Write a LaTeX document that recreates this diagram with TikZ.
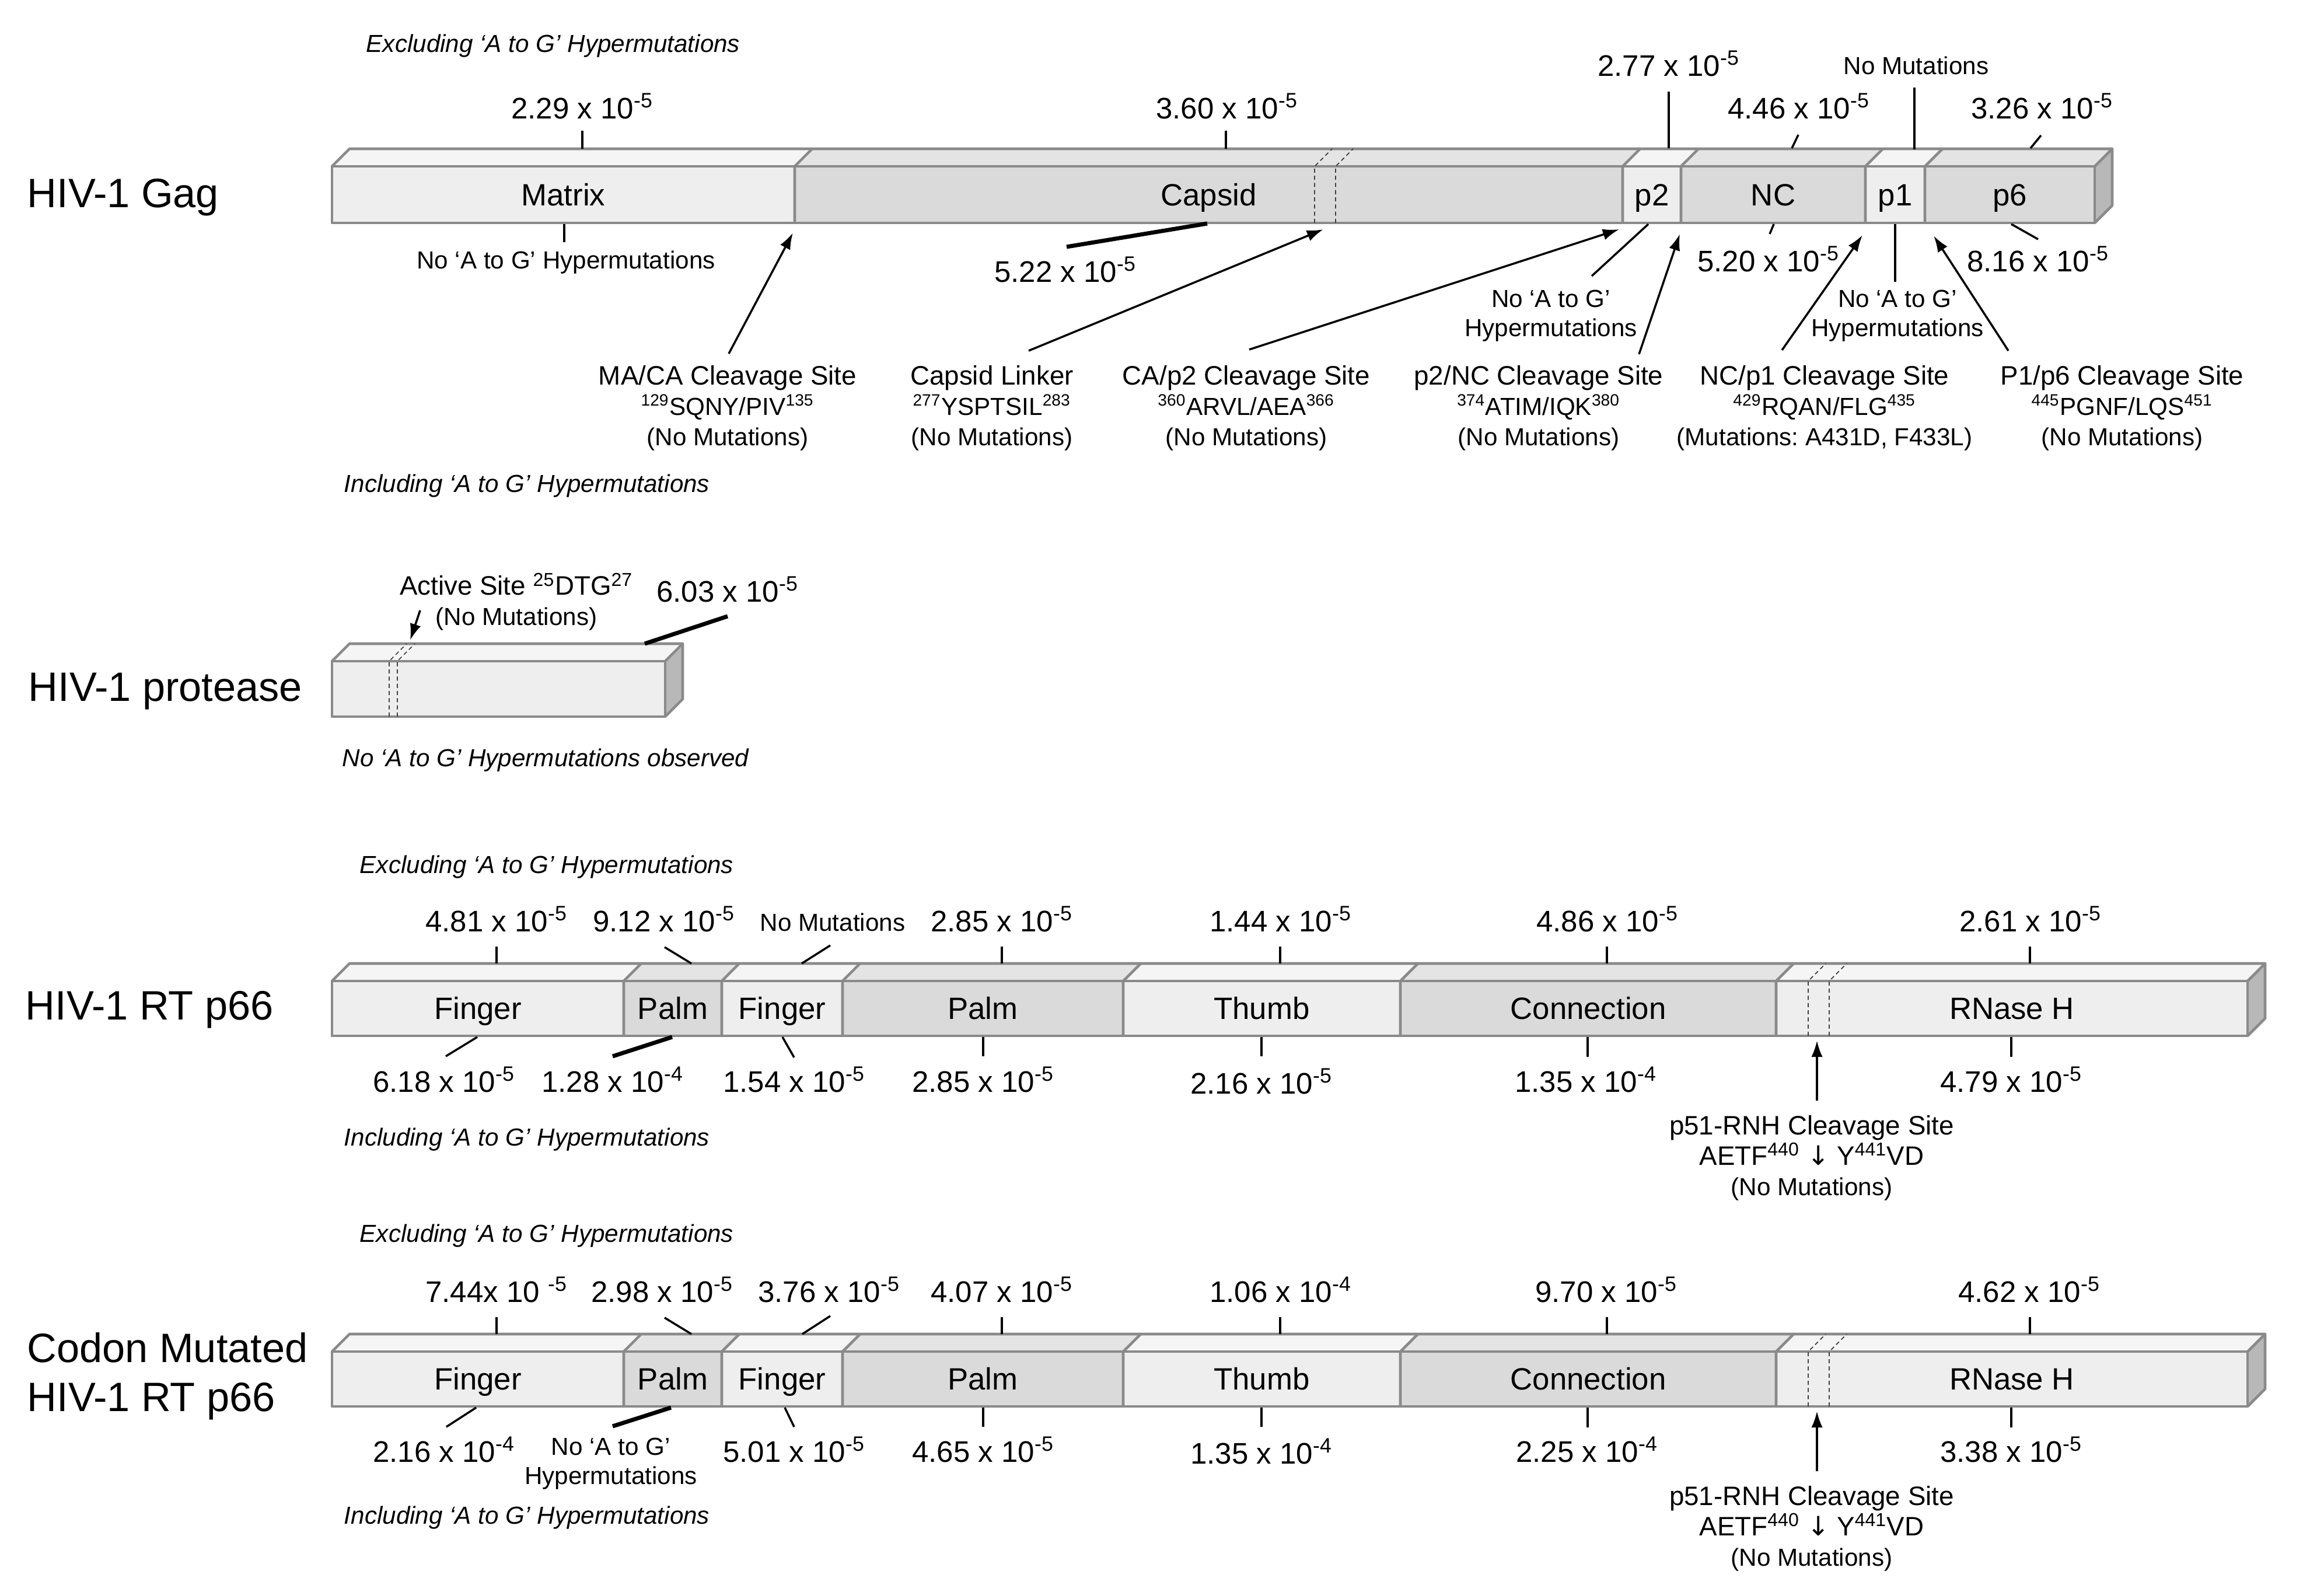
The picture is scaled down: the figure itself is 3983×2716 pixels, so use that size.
\documentclass[tikz,border=0pt]{standalone}
\usepackage{fontspec}
\setmainfont{Liberation Sans}
\newfontfamily\djv{DejaVu Sans}
\usetikzlibrary{arrows.meta}
\frenchspacing

\definecolor{segL}{HTML}{EEEEEE}
\definecolor{segD}{HTML}{DADADA}
\definecolor{topL}{HTML}{F5F5F5}
\definecolor{topD}{HTML}{E4E4E4}
\definecolor{edgec}{HTML}{8A8A8A}
\definecolor{sidec}{HTML}{B8B8B8}

\tikzset{
  seglabel/.style={font=\fontsize{15}{18}\selectfont, inner sep=0pt, text height=10.8pt, text depth=0pt},
  rate/.style={font=\fontsize{14.5}{17}\selectfont, inner sep=0pt, text height=10.4pt, text depth=0pt},
  smalltxt/.style={font=\fontsize{12}{14.2}\selectfont, align=center, inner sep=0pt},
  italnote/.style={font=\fontsize{12}{14}\selectfont\itshape, inner sep=0pt},
  title/.style={font=\fontsize{20}{24}\selectfont, anchor=west, inner sep=0pt, text height=14.3pt, text depth=0pt},
  site/.style={font=\fontsize{13}{14.8}\selectfont, align=center, inner sep=0pt},
  tick/.style={line width=1pt, black},
  thickline/.style={line width=2pt, black},
  arr/.style={line width=1pt, black, -{Latex[length=8pt,width=5.5pt]}},
  edgeline/.style={draw=edgec, line width=1.3pt, line join=round},
  dashdiv/.style={draw=black!75, line width=0.5pt, dash pattern=on 2pt off 1.5pt},
}

\newcommand\seg[8]{%
  \fill[#6] (#2,#4) rectangle (#3,#5);
  \fill[#7] (#2,#4) -- ({#2+30},{#4-30}) -- ({#3+30},{#4-30}) -- (#3,#4) -- cycle;
  \node[seglabel] (#1) at ({(#2+#3)/2},{(#4+#5)/2}) {#8};
}
\newcommand\frm[4]{%
  \fill[sidec] (#2,#3) -- ({#2+30},{#3-30}) -- ({#2+30},{#4-30}) -- (#2,#4) -- cycle;
  \draw[edgeline] (#1,#3) rectangle (#2,#4);
  \draw[edgeline] (#1,#3) -- ({#1+30},{#3-30}) -- ({#2+30},{#3-30}) -- ({#2+30},{#4-30}) -- (#2,#4);
  \draw[edgeline] (#2,#3) -- ({#2+30},{#3-30});
}
\newcommand\dv[3]{\draw[edgeline] (#1,#3) -- (#1,#2) -- ({#1+30},{#2-30});}
\newcommand\dsh[3]{\draw[dashdiv] (#1,#3) -- (#1,#2) -- ({#1+30},{#2-30});}
\newcommand\conn[4]{\coordinate (#1s) at (#3); \coordinate (#1e) at (#4); \draw[#2] (#1s) -- (#1e);}
\newcommand\ten[1]{x 10\textsuperscript{#1}}
\newcommand\sml[1]{{\fontsize{12}{14.8}\selectfont #1}}

\begin{document}
\begin{tikzpicture}[x=0.01cm, y=-0.01cm]
\useasboundingbox (0,0) rectangle (3983,2716);
\fill[white] (0,0) rectangle (3983,2716);

%================ HIV-1 Gag =================
\node[title] (tGag) at (46,330) {HIV-1 Gag};
\seg{gMatrix}{569}{1362}{285}{382}{segL}{topL}{Matrix}
\seg{gCapsid}{1362}{2781}{285}{382}{segD}{topD}{Capsid}
\seg{gp2}{2781}{2881}{285}{382}{segL}{topL}{p2}
\seg{gNC}{2881}{3197}{285}{382}{segD}{topD}{NC}
\seg{gp1}{3197}{3299}{285}{382}{segL}{topL}{p1}
\seg{gp6}{3299}{3590}{285}{382}{segD}{topD}{p6}
\frm{569}{3590}{285}{382}
\dv{1362}{285}{382}\dv{2781}{285}{382}\dv{2881}{285}{382}\dv{3197}{285}{382}\dv{3299}{285}{382}
\dsh{2253}{285}{382}\dsh{2289}{285}{382}

\node[italnote] (gEx) at (948,79) {Excluding ‘A to G’ Hypermutations};
\node[rate] (gr1) at (998,185) {2.29 \ten{-5}};
\node[rate] (gr2) at (2103,185) {3.60 \ten{-5}};
\node[rate] (gr3) at (2860,112) {2.77 \ten{-5}};
\node[smalltxt] (gr4) at (3284,112) {No Mutations};
\node[rate] (gr5) at (3083,185) {4.46 \ten{-5}};
\node[rate] (gr6) at (3500,185) {3.26 \ten{-5}};
\conn{gt1}{tick}{998,224}{998,255}
\conn{gt2}{tick}{2101,224}{2101,255}
\conn{gt3}{tick}{2860,157}{2860,254}
\conn{gt4}{tick}{3281,150}{3281,256}
\conn{gt5}{tick}{3082,231}{3071,254}
\conn{gt6}{tick}{3498,232}{3480,254}

\node[smalltxt] (gb1) at (970,450) {No ‘A to G’ Hypermutations};
\node[rate] (gb2) at (1826,465) {5.22 \ten{-5}};
\node[rate] (gb3) at (3031,447) {5.20 \ten{-5}};
\node[rate] (gb4) at (3493,447) {8.16 \ten{-5}};
\node[smalltxt] (gb5) at (2658,541) {No ‘A to G’\\Hypermutations};
\node[smalltxt] (gb6) at (3252,541) {No ‘A to G’\\Hypermutations};
\conn{gu1}{tick}{967,384}{967,415}
\conn{gu2}{thickline}{1828,423}{2069,383}
\conn{gu3}{tick}{3040,384}{3033,401}
\conn{gu4}{tick}{3447,384}{3493,410}
\conn{gu5}{tick}{2825,384}{2728,473}
\conn{gu6}{tick}{3248,384}{3248,483}

\node[site] (s1) at (1247,699) {MA/CA Cleavage Site\\\sml{\textsuperscript{129}SQNY/PIV\textsuperscript{135}}\\\sml{(No Mutations)}};
\node[site] (s2) at (1700,699) {Capsid Linker\\\sml{\textsuperscript{277}YSPTSIL\textsuperscript{283}}\\\sml{(No Mutations)}};
\node[site] (s3) at (2136,699) {CA/p2 Cleavage Site\\\sml{\textsuperscript{360}ARVL/AEA\textsuperscript{366}}\\\sml{(No Mutations)}};
\node[site] (s4) at (2637,699) {p2/NC Cleavage Site\\\sml{\textsuperscript{374}ATIM/IQK\textsuperscript{380}}\\\sml{(No Mutations)}};
\node[site] (s5) at (3127,699) {NC/p1 Cleavage Site\\\sml{\textsuperscript{429}RQAN/FLG\textsuperscript{435}}\\\sml{(Mutations: A431D, F433L)}};
\node[site] (s6) at (3637,699) {P1/p6 Cleavage Site\\\sml{\textsuperscript{445}PGNF/LQS\textsuperscript{451}}\\\sml{(No Mutations)}};
\conn{a1}{arr}{1249,606}{1359,399}
\conn{a2}{arr}{1763,601}{2268,393}
\conn{a3}{arr}{2141,599}{2775,393}
\conn{a4}{arr}{2809,607}{2879,401}
\conn{a5}{arr}{3054,600}{3192,403}
\conn{a6}{arr}{3442,601}{3314,404}
\node[italnote] (gIn) at (903,833) {Including ‘A to G’ Hypermutations};

%================ HIV-1 protease =================
\node[title] (tPR) at (48,1176) {HIV-1 protease};
\seg{prBox}{569}{1140}{1133}{1228}{segL}{topL}{}
\frm{569}{1140}{1133}{1228}
\dsh{667}{1133}{1228}\dsh{681}{1133}{1228}
\node[site] (prAS) at (885,1031) {Active Site \textsuperscript{25}DTG\textsuperscript{27}\\\sml{(No Mutations)}};
\node[rate] (prR) at (1247,1013) {6.03 \ten{-5}};
\conn{pa}{arr}{720,1046}{703,1097}
\conn{pt}{thickline}{1247,1056}{1105,1103}
\node[italnote] (prNo) at (935,1303) {No ‘A to G’ Hypermutations observed};

%================ HIV-1 RT p66 =================
\node[title] (tRT) at (43,1722) {HIV-1 RT p66};
\seg{rF1}{569}{1069}{1681}{1775}{segL}{topL}{Finger}
\seg{rP1}{1069}{1237}{1681}{1775}{segD}{topD}{Palm}
\seg{rF2}{1237}{1444}{1681}{1775}{segL}{topL}{Finger}
\seg{rP2}{1444}{1925}{1681}{1775}{segD}{topD}{Palm}
\seg{rT}{1925}{2400}{1681}{1775}{segL}{topL}{Thumb}
\seg{rC}{2400}{3044}{1681}{1775}{segD}{topD}{Connection}
\seg{rR}{3044}{3852}{1681}{1775}{segL}{topL}{RNase H}
\frm{569}{3852}{1681}{1775}
\dv{1069}{1681}{1775}\dv{1237}{1681}{1775}\dv{1444}{1681}{1775}\dv{1925}{1681}{1775}\dv{2400}{1681}{1775}\dv{3044}{1681}{1775}
\dsh{3099}{1681}{1775}\dsh{3135}{1681}{1775}

\node[italnote] (rEx) at (937,1486) {Excluding ‘A to G’ Hypermutations};
\node[rate] (rr1) at (851,1578) {4.81 \ten{-5}};
\node[rate] (rr2) at (1138,1578) {9.12 \ten{-5}};
\node[smalltxt] (rr3) at (1427,1580) {No Mutations};
\node[rate] (rr4) at (1717,1578) {2.85 \ten{-5}};
\node[rate] (rr5) at (2195,1578) {1.44 \ten{-5}};
\node[rate] (rr6) at (2755,1578) {4.86 \ten{-5}};
\node[rate] (rr7) at (3480,1578) {2.61 \ten{-5}};
\conn{rt1}{tick}{851,1622}{851,1651}
\conn{rt2}{tick}{1139,1623}{1185,1651}
\conn{rt3}{tick}{1423,1620}{1374,1651}
\conn{rt4}{tick}{1717,1622}{1717,1651}
\conn{rt5}{tick}{2194,1622}{2194,1651}
\conn{rt6}{tick}{2754,1622}{2754,1651}
\conn{rt7}{tick}{3479,1622}{3479,1651}

\node[rate] (rb1) at (761,1853) {6.18 \ten{-5}};
\node[rate] (rb2) at (1050,1853) {1.28 \ten{-4}};
\node[rate] (rb3) at (1361,1853) {1.54 \ten{-5}};
\node[rate] (rb4) at (1685,1853) {2.85 \ten{-5}};
\node[rate] (rb5) at (2162,1856) {2.16 \ten{-5}};
\node[rate] (rb6) at (2718,1853) {1.35 \ten{-4}};
\node[rate] (rb7) at (3447,1853) {4.79 \ten{-5}};
\conn{ru1}{tick}{818,1777}{764,1810}
\conn{ru2}{thickline}{1152,1777}{1050,1810}
\conn{ru3}{tick}{1341,1777}{1361,1812}
\conn{ru4}{tick}{1685,1777}{1685,1810}
\conn{ru5}{tick}{2162,1777}{2162,1810}
\conn{ru6}{tick}{2721,1777}{2721,1811}
\conn{ru7}{tick}{3447,1777}{3447,1811}
\conn{ra}{arr}{3114,1886}{3114,1783}
\node[site] (rs) at (3105,1984) {p51-RNH Cleavage Site\\AETF\textsuperscript{440} {\djv ↓} Y\textsuperscript{441}VD\\\sml{(No Mutations)}};
\node[italnote] (rIn) at (903,1953) {Including ‘A to G’ Hypermutations};

%================ Codon mutated RT p66 =================
\node[title] (tCM1) at (46,2309) {Codon Mutated};
\node[title] (tCM2) at (46,2393) {HIV-1 RT p66};
\seg{cF1}{569}{1069}{2316}{2410}{segL}{topL}{Finger}
\seg{cP1}{1069}{1237}{2316}{2410}{segD}{topD}{Palm}
\seg{cF2}{1237}{1444}{2316}{2410}{segL}{topL}{Finger}
\seg{cP2}{1444}{1925}{2316}{2410}{segD}{topD}{Palm}
\seg{cT}{1925}{2400}{2316}{2410}{segL}{topL}{Thumb}
\seg{cC}{2400}{3044}{2316}{2410}{segD}{topD}{Connection}
\seg{cR}{3044}{3852}{2316}{2410}{segL}{topL}{RNase H}
\frm{569}{3852}{2316}{2410}
\dv{1069}{2316}{2410}\dv{1237}{2316}{2410}\dv{1444}{2316}{2410}\dv{1925}{2316}{2410}\dv{2400}{2316}{2410}\dv{3044}{2316}{2410}
\dsh{3099}{2316}{2410}\dsh{3135}{2316}{2410}

\node[italnote] (cEx) at (937,2118) {Excluding ‘A to G’ Hypermutations};
\node[rate] (cr1) at (851,2213) {7.44x 10 \textsuperscript{-5}};
\node[rate] (cr2) at (1135,2213) {2.98 \ten{-5}};
\node[rate] (cr3) at (1421,2213) {3.76 \ten{-5}};
\node[rate] (cr4) at (1717,2213) {4.07 \ten{-5}};
\node[rate] (cr5) at (2195,2213) {1.06 \ten{-4}};
\node[rate] (cr6) at (2753,2213) {9.70 \ten{-5}};
\node[rate] (cr7) at (3478,2213) {4.62 \ten{-5}};
\conn{ct1}{tick}{851,2257}{851,2286}
\conn{ct2}{tick}{1139,2258}{1185,2286}
\conn{ct3}{tick}{1423,2255}{1375,2286}
\conn{ct4}{tick}{1717,2257}{1717,2286}
\conn{ct5}{tick}{2194,2257}{2194,2286}
\conn{ct6}{tick}{2754,2257}{2754,2286}
\conn{ct7}{tick}{3479,2257}{3479,2286}

\node[rate] (cb1) at (761,2487) {2.16 \ten{-4}};
\node[smalltxt] (cb2) at (1047,2508) {No ‘A to G’\\Hypermutations};
\node[rate] (cb3) at (1361,2487) {5.01 \ten{-5}};
\node[rate] (cb4) at (1685,2487) {4.65 \ten{-5}};
\node[rate] (cb5) at (2162,2490) {1.35 \ten{-4}};
\node[rate] (cb6) at (2720,2487) {2.25 \ten{-4}};
\node[rate] (cb7) at (3447,2487) {3.38 \ten{-5}};
\conn{cu1}{tick}{816,2412}{765,2445}
\conn{cu2}{thickline}{1150,2412}{1050,2444}
\conn{cu3}{tick}{1345,2412}{1361,2445}
\conn{cu4}{tick}{1685,2412}{1685,2445}
\conn{cu5}{tick}{2162,2412}{2162,2445}
\conn{cu6}{tick}{2721,2412}{2721,2446}
\conn{cu7}{tick}{3447,2412}{3447,2446}
\conn{ca}{arr}{3114,2521}{3114,2418}
\node[site] (cs) at (3105,2619) {p51-RNH Cleavage Site\\AETF\textsuperscript{440} {\djv ↓} Y\textsuperscript{441}VD\\\sml{(No Mutations)}};
\node[italnote] (cIn) at (903,2601) {Including ‘A to G’ Hypermutations};
\end{tikzpicture}
\end{document}
